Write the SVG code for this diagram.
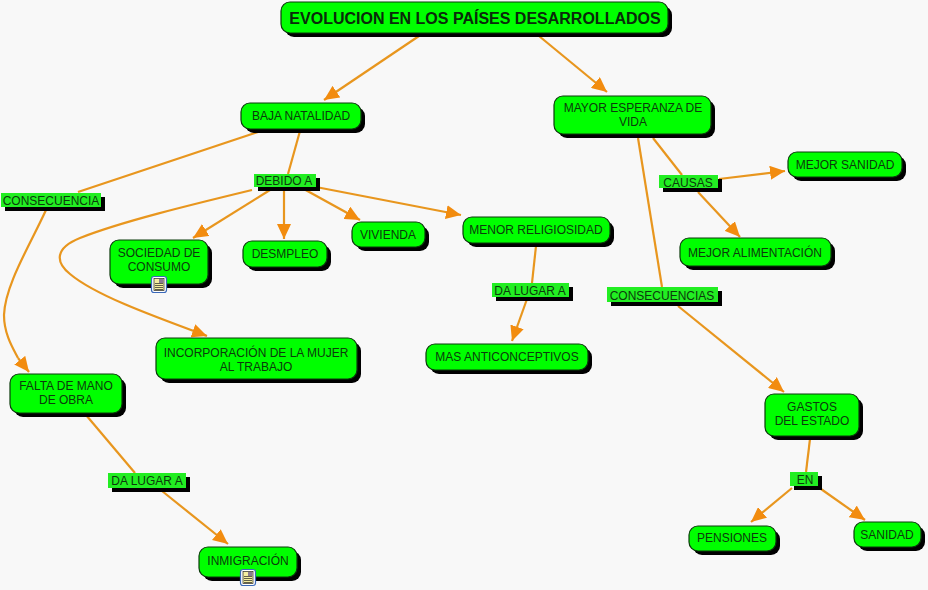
<svg xmlns="http://www.w3.org/2000/svg" width="928" height="590" viewBox="0 0 928 590">
<style>
text{font-family:"Liberation Sans",Arial,sans-serif;font-size:12px;fill:#0c3a0c;text-anchor:middle}
.t{font-size:16px;font-weight:bold;fill:#0a2a0a}
.b{fill:#00ff00;stroke:#0a3a0a;stroke-width:1.200}
.s{fill:#000}
.lb{fill:#22ee22}
.c{fill:none;stroke:#e8961e;stroke-width:2.200}
</style>
<defs>
<marker id="a" markerUnits="userSpaceOnUse" markerWidth="16" markerHeight="14" refX="15" refY="7" orient="auto"><path d="M0 0L15 7L0 14Z" fill="#f28c0f"/></marker>
<g id="doc"><rect x="-7.500" y="-7.500" width="15" height="16" rx="2.500" fill="#fff" stroke="#3a68b8" stroke-width="1.200"/><rect x="-5" y="-5.500" width="10" height="12" fill="#f6eea0" stroke="#222" stroke-width=".7"/><path d="M-4-.5H4M-4 1.500H4M-4 3.500H4M-4 5.500H4" stroke="#222" stroke-width=".7"/><rect x="0" y="-5" width="4.500" height="4" fill="#8a7a90"/></g>
</defs>
<rect width="928" height="590" fill="#f8f8f8"/>
<g id="connectors">
<path class="c" marker-end="url(#a)" d="M419 36L324 100"/>
<path class="c" marker-end="url(#a)" d="M539 36L607 92"/>
<path class="c" d="M261 131L78 192"/>
<path class="c" d="M300 131L288 174"/>
<path class="c" marker-end="url(#a)" d="M270 190L193 238"/>
<path class="c" marker-end="url(#a)" d="M284 188V239"/>
<path class="c" marker-end="url(#a)" d="M302 188L360 220"/>
<path class="c" marker-end="url(#a)" d="M316 187L461 215"/>
<path class="c" marker-end="url(#a)" d="M252 190C190 205 120 222 80 238C55 248 55 262 70 274C95 295 150 315 207 336"/>
<path class="c" d="M46 210C30 245 5 285 4 315C4 335 14 350 18 358"/>
<path class="c" marker-end="url(#a)" d="M18 358L29 372"/>
<path class="c" d="M536 246L532 283"/>
<path class="c" marker-end="url(#a)" d="M527 299L512 341"/>
<path class="c" d="M638 138L662 287"/>
<path class="c" d="M653 138L682 175"/>
<path class="c" marker-end="url(#a)" d="M698 192L740 237"/>
<path class="c" marker-end="url(#a)" d="M719 179L785 171"/>
<path class="c" marker-end="url(#a)" d="M678 306L784 392"/>
<path class="c" d="M86 415L135 473"/>
<path class="c" marker-end="url(#a)" d="M162 491L228 544"/>
<path class="c" d="M810 439L806 472"/>
<path class="c" marker-end="url(#a)" d="M792 488L751 522"/>
<path class="c" marker-end="url(#a)" d="M821 489L865 520"/>
</g>
<g id="n1"><rect class="s" x="285" y="6" width="387" height="31" rx="9"/><rect class="b" x="281" y="2" width="387" height="31" rx="9"/><text class="t" x="475" y="24">EVOLUCION EN LOS PAÍSES DESARROLLADOS</text></g>
<g id="n2"><rect class="s" x="245" y="107" width="120" height="26" rx="9"/><rect class="b" x="241" y="103" width="120" height="26" rx="9"/><text x="301" y="120">BAJA NATALIDAD</text></g>
<g id="n3"><rect class="s" x="558" y="100" width="157" height="38" rx="9"/><rect class="b" x="554" y="96" width="157" height="38" rx="9"/><text x="633" y="112">MAYOR ESPERANZA DE</text><text x="633" y="126">VIDA</text></g>
<g id="n4"><rect class="s" x="792" y="156" width="114" height="25" rx="9"/><rect class="b" x="788" y="152" width="114" height="25" rx="9"/><text x="845" y="169">MEJOR SANIDAD</text></g>
<g id="n5"><rect class="s" x="684" y="242" width="151" height="28" rx="9"/><rect class="b" x="680" y="238" width="151" height="28" rx="9"/><text x="755" y="257">MEJOR ALIMENTACIÓN</text></g>
<g id="n6"><rect class="s" x="114" y="244" width="98" height="44" rx="9"/><rect class="b" x="110" y="240" width="98" height="44" rx="9"/><text x="159" y="257">SOCIEDAD DE</text><text x="159" y="271">CONSUMO</text><use href="#doc" x="159" y="284"/></g>
<g id="n7"><rect class="s" x="247" y="245" width="84" height="26" rx="9"/><rect class="b" x="243" y="241" width="84" height="26" rx="9"/><text x="285" y="258">DESMPLEO</text></g>
<g id="n8"><rect class="s" x="356" y="226" width="73" height="25" rx="9"/><rect class="b" x="352" y="222" width="73" height="25" rx="9"/><text x="388" y="239">VIVIENDA</text></g>
<g id="n9"><rect class="s" x="467" y="221" width="147" height="26" rx="9"/><rect class="b" x="463" y="217" width="147" height="26" rx="9"/><text x="536" y="234">MENOR RELIGIOSIDAD</text></g>
<g id="n10"><rect class="s" x="430" y="348" width="162" height="26" rx="9"/><rect class="b" x="426" y="344" width="162" height="26" rx="9"/><text x="507" y="361">MAS ANTICONCEPTIVOS</text></g>
<g id="n11"><rect class="s" x="160" y="342" width="201" height="41" rx="9"/><rect class="b" x="156" y="338" width="201" height="41" rx="9"/><text x="256" y="357">INCORPORACIÓN DE LA MUJER</text><text x="256" y="371">AL TRABAJO</text></g>
<g id="n12"><rect class="s" x="14" y="378" width="112" height="39" rx="9"/><rect class="b" x="10" y="374" width="112" height="39" rx="9"/><text x="66" y="390">FALTA DE MANO</text><text x="66" y="404">DE OBRA</text></g>
<g id="n13"><rect class="s" x="203" y="551" width="98" height="30" rx="9"/><rect class="b" x="199" y="547" width="98" height="30" rx="9"/><text x="248" y="565">INMIGRACIÓN</text><use href="#doc" x="248" y="577"/></g>
<g id="n14"><rect class="s" x="769" y="398" width="94" height="42" rx="9"/><rect class="b" x="765" y="394" width="94" height="42" rx="9"/><text x="812" y="411">GASTOS</text><text x="812" y="425">DEL ESTADO</text></g>
<g id="n15"><rect class="s" x="693" y="530" width="87" height="25" rx="9"/><rect class="b" x="689" y="526" width="87" height="25" rx="9"/><text x="732" y="542">PENSIONES</text></g>
<g id="n16"><rect class="s" x="858" y="526" width="67" height="25" rx="9"/><rect class="b" x="854" y="522" width="67" height="25" rx="9"/><text x="887" y="539">SANIDAD</text></g>
<g id="l1"><rect class="s" x="5" y="197" width="100" height="14"/><rect class="lb" x="1" y="193" width="100" height="14"/><text x="51" y="205">CONSECUENCIA</text></g>
<g id="l2"><rect class="s" x="258" y="178" width="62" height="13"/><rect class="lb" x="254" y="174" width="62" height="13"/><text x="284" y="185">DEBIDO A</text></g>
<g id="l3"><rect class="s" x="663" y="179" width="59" height="13"/><rect class="lb" x="659" y="175" width="59" height="13"/><text x="688" y="187">CAUSAS</text></g>
<g id="l4"><rect class="s" x="611" y="291" width="111" height="15"/><rect class="lb" x="607" y="287" width="111" height="15"/><text x="662" y="300">CONSECUENCIAS</text></g>
<g id="l5"><rect class="s" x="496" y="287" width="77" height="14"/><rect class="lb" x="492" y="283" width="77" height="14"/><text x="530" y="295">DA LUGAR A</text></g>
<g id="l6"><rect class="s" x="112" y="477" width="78" height="15"/><rect class="lb" x="108" y="473" width="78" height="15"/><text x="147" y="485">DA LUGAR A</text></g>
<g id="l7"><rect class="s" x="794" y="476" width="28" height="14"/><rect class="lb" x="790" y="472" width="28" height="14"/><text x="805" y="484">EN</text></g>
</svg>
